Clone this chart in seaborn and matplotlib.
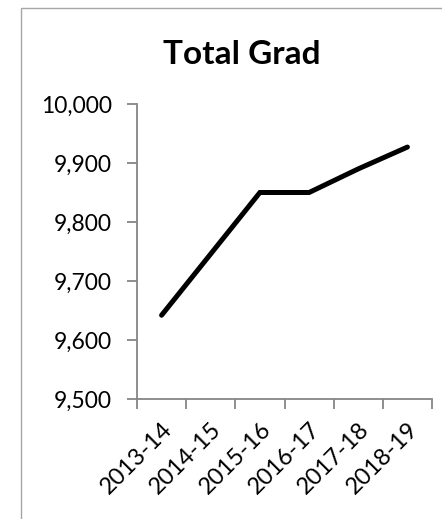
import matplotlib
matplotlib.use("Agg")
import matplotlib.pyplot as plt
from matplotlib.patches import Rectangle
from matplotlib.ticker import FixedLocator, FuncFormatter
import seaborn as sns
import pandas as pd
import numpy as np

years = ["2013-14", "2014-15", "2015-16", "2016-17", "2017-18", "2018-19"]
total_grad = [9642, 9746, 9850, 9850, 9890, 9927]
y_ticks = [9500, 9600, 9700, 9800, 9900, 10000]

sns.set_theme(style="white")
plt.rcParams["font.family"] = ["Lato", "DejaVu Sans"]

df = pd.DataFrame({"year": years, "grads": total_grad})

fig = plt.figure(figsize=(4.42, 5.19), dpi=100)
ax = fig.add_axes([137 / 442, 1 - 399 / 519, (432 - 137) / 442, (399 - 104) / 519])

sns.lineplot(data=df, x="year", y="grads", ax=ax, color="black",
             linewidth=3.6, sort=False, solid_capstyle="round", solid_joinstyle="miter")

axis_gray = "#868686"
ax.set_xlim(-0.5, len(years) - 0.5)
ax.set_ylim(y_ticks[0], y_ticks[-1])
ax.set_yticks(y_ticks)
ax.yaxis.set_major_formatter(FuncFormatter(lambda v, p: f"{int(v):,}"))

ax.set_xticks(range(len(years)))
ax.set_xticklabels(years, rotation=45, ha="right", rotation_mode="anchor")
ax.xaxis.set_minor_locator(FixedLocator(np.arange(-0.5, len(years), 1.0)))
ax.tick_params(axis="x", which="major", length=0, pad=14, labelsize=17, colors="black")
ax.tick_params(axis="x", which="minor", length=7, width=1.3, color=axis_gray, direction="out", bottom=True)
ax.tick_params(axis="y", length=7, width=1.3, color=axis_gray, direction="out", left=True,
               labelsize=16.5, labelcolor="black", pad=11)

for side in ["top", "right"]:
    ax.spines[side].set_visible(False)
for side in ["left", "bottom"]:
    ax.spines[side].set_color(axis_gray)
    ax.spines[side].set_linewidth(1.3)

ax.set_xlabel("")
ax.set_ylabel("")
ax.grid(False)

fig.text(242 / 442, 1 - 55 / 519, "Total Grad", ha="center", va="center",
         fontsize=24, fontweight="bold", color="black")

# chart area border
fig.patches.append(Rectangle((21 / 442, -0.05), 1.0, 1 - 8 / 519 + 0.05,
                             transform=fig.transFigure, fill=False,
                             edgecolor="#a6a6a6", linewidth=1.0))

fig.savefig("out.png", dpi=100)
